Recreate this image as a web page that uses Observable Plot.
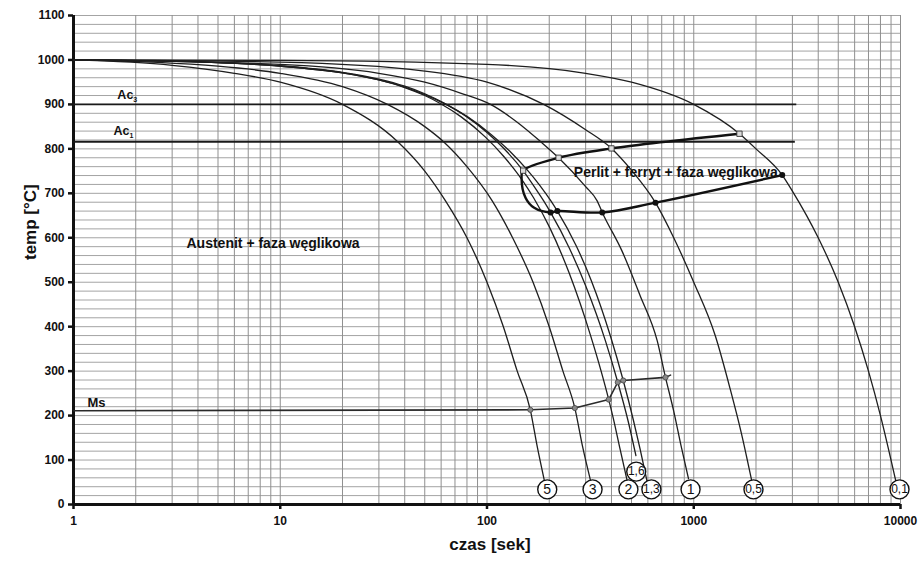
<!DOCTYPE html>
<html><head><meta charset="utf-8">
<script src="https://cdn.jsdelivr.net/npm/d3@7"></script>
<script src="https://cdn.jsdelivr.net/npm/@observablehq/plot@0.6"></script>
<style>
body{margin:0;background:#fff;}
#chart svg{font-family:"Liberation Sans",Arial,Helvetica,sans-serif;}
</style></head><body><div id="chart"></div>
<script>
// cooling curves: [time s, temperature °C]
const curve5  = [[1,1000],[3,988],[6,970],[10,950],[20,900],[37,816],[50,750],[63,683],[80,600],[100,500],[120,400],[140,300],[162,213],[175,130],[189,56]];
const curve3  = [[1,1000],[5,986],[10,970],[20,940],[33,900],[50,850],[62,815],[80,760],[106,683],[133,600],[167,500],[200,400],[233,300],[266,217],[290,130],[316,56]];
const curve2  = [[1,1000],[5,994],[10,986],[20,971],[30,955],[40,938],[50,920],[60,901],[75,872],[98,827],[120,784],[135,755],[150,726],[168,690],[200,625],[250,520],[317,380],[355,303],[388,236],[409,192],[440,125],[476,54]];
const curve16 = [[1,1000],[5,994],[10,987],[20,972],[30,957],[40,941],[50,924],[62,903],[80,872],[100,837],[120,802],[150,750],[175,705],[188,683],[203,657],[250,577],[300,492],[374,368],[429,275],[483,185],[525,110]];
const curve13 = [[1,1000],[5,994],[10,986],[20,971],[30,955],[40,939],[50,922],[64,899],[80,873],[105,832],[130,793],[155,755],[180,718],[203,684],[219,660],[270,582],[320,503],[396,378],[456,279],[511,189],[550,125],[596,50]];
const curve1  = [[1,1000],[10,990],[30,970],[50,950],[75,925],[104,900],[140,860],[182,816],[222,780],[300,715],[341,683],[361,657],[450,570],[550,470],[666,368],[730,286],[800,210],[870,130],[943,58]];
const curve05 = [[1,1000],[10,995],[50,975],[100,950],[188,900],[300,843],[400,801],[500,752],[653,679],[800,600],[1000,500],[1270,380],[1500,260],[1700,160],[1902,56]];
const curve01 = [[1,1000],[10,999],[100,990],[300,970],[500,950],[1000,900],[1664,834],[2000,800],[2679,741],[3000,705],[4000,600],[5000,500],[6000,400],[7000,300],[8000,200],[9000,100],[9500,52]];

// cooling-rate labels (circled) at curve ends
const rateLabels = ["5","3","2","1,6","1,3","1","0,5","0,1"];
const rateLabelT = [195.6, 324, 483, 527, 624, 965, 1945, 9890];
const rateLabelTemp = [34, 34, 34, 74, 34, 34, 34, 34];

// critical temperatures
const acNames = ["Ac3","Ac1"];
const acTemp = [900, 816];
const acEnd = [3150, 3100];

// Ms line
const msTime = [1, 162, 266, 388, 429, 456, 730, 772];
const msTemp = [211, 213, 217, 236, 275, 279, 286, 291];
const msMarkerIdx = [1,2,3,4,5,6];

// pearlite + ferrite region boundary (path order)
const pfTime = [1664, 400, 222, 149.6, 147, 153.6, 168.4, 203, 219, 361, 653, 2679];
const pfTemp = [834, 801, 780, 751, 733, 690, 668, 657, 660, 657, 679, 741];
const pfStartTime = [149.6, 222, 400, 1664];
const pfStartTemp = [751, 780, 801, 834];
const pfEndTime = [203, 219, 361, 653, 2679];
const pfEndTemp = [657, 660, 657, 679, 741];

// axis ticks
const xTicks = [1, 10, 100, 1000, 10000];
const yTicks = [0,100,200,300,400,500,600,700,800,900,1000,1100];

const curveList = [["5",curve5],["3",curve3],["2",curve2],["1.6",curve16],["1.3",curve13],["1",curve1],["0.5",curve05],["0.1",curve01]];
const curveRows = curveList.flatMap(([k, pts]) => pts.map(([t, T]) => ({k, t, T})));
const labelRows = rateLabels.map((s, i) => ({s, t: rateLabelT[i], T: rateLabelTemp[i]}));
const acRows = acNames.map((n, i) => ({n, T: acTemp[i], e: acEnd[i]}));
const msRows = msTime.map((t, i) => ({t, T: msTemp[i]}));
const pfRows = pfTime.map((t, i) => ({t, T: pfTemp[i]}));
const pfStartRows = pfStartTime.map((t, i) => ({t, T: pfStartTemp[i]}));
const pfEndRows = pfEndTime.map((t, i) => ({t, T: pfEndTemp[i]}));

const xGrid = [];
for (const d of [1, 10, 100, 1000]) for (let m = 1; m <= 9; m++) xGrid.push(d * m);
xGrid.push(10000);
const yGrid = d3.range(20, 1101, 20);

const bold = "bold";
const plot = Plot.plot({
  width: 921, height: 567,
  marginLeft: 73, marginRight: 21, marginTop: 15, marginBottom: 63,
  x: {type: "log", domain: [1, 10000]},
  y: {domain: [0, 1100]},
  style: {background: "white", fontFamily: "'Liberation Sans', Arial, sans-serif"},
  marks: [
    Plot.ruleY(yGrid, {stroke: "#a4a4a4", strokeWidth: 1}),
    Plot.ruleX(xGrid, {stroke: "#8f8f8f", strokeWidth: 1}),
    Plot.axisY({ticks: yTicks, tickSize: 5, tickPadding: 4, fontSize: 12, fontWeight: bold, strokeWidth: 2.5, stroke: "#111", fill: "#111", label: null, tickFormat: d => String(d)}),
    Plot.axisX({ticks: xTicks, tickSize: 5, tickPadding: 7, fontSize: 12, fontWeight: bold, strokeWidth: 2.5, stroke: "#111", fill: "#111", label: null, tickFormat: d => String(d)}),
    Plot.ruleX([1], {stroke: "#111", strokeWidth: 3}),
    Plot.ruleY([0], {stroke: "#111", strokeWidth: 3}),
    // critical temperature lines
    Plot.ruleY(acRows, {y: "T", x1: 1, x2: "e", stroke: "#1a1a1a", strokeWidth: 1.8}),
    // cooling curves
    Plot.line(curveRows, {x: "t", y: "T", z: "k", curve: "monotone-x", stroke: "#1e1e1e", strokeWidth: 1.3}),
    // Ms line
    Plot.line(msRows, {x: "t", y: "T", stroke: "#2a2a2a", strokeWidth: 1.6}),
    Plot.dot(msRows.filter((d, i) => msMarkerIdx.includes(i)), {x: "t", y: "T", r: 2.6, fill: "#8a8a8a", stroke: "#444", strokeWidth: 0.8}),
    // pearlite region
    Plot.line(pfRows, {x: "t", y: "T", curve: "catmull-rom", stroke: "#111", strokeWidth: 2.4}),
    Plot.dot(pfStartRows, {x: "t", y: "T", symbol: "square", r: 3, fill: "#ddd", stroke: "#333", strokeWidth: 0.9}),
    Plot.dot(pfEndRows, {x: "t", y: "T", r: 3, fill: "#111"}),
    // circled rate labels
    Plot.dot(labelRows, {x: "t", y: "T", r: 9.5, fill: "white", stroke: "#111", strokeWidth: 1.4}),
    Plot.text(labelRows, {x: "t", y: "T", text: "s", fontSize: d => d.s.length > 1 ? 12 : 14, fill: "#111", lineAnchor: "middle"}),
    // region labels
    Plot.text(["Austenit + faza węglikowa"], {x: 3.52, y: 587, textAnchor: "start", fontSize: 14, fontWeight: bold, fill: "#111"}),
    Plot.text(["Perlit + ferryt + faza węglikowa"], {x: 263, y: 747, textAnchor: "start", fontSize: 14, fontWeight: bold, fill: "#111"}),
    // critical temperature labels
    Plot.text(["Ac"], {x: 1.63, y: 921, textAnchor: "start", fontSize: 12.5, fontWeight: bold, fill: "#111"}),
    Plot.text(["3"], {x: 1.63, y: 921, dx: 16, dy: 5, textAnchor: "start", fontSize: 7, fontWeight: bold, fill: "#111"}),
    Plot.text(["Ac"], {x: 1.56, y: 840, textAnchor: "start", fontSize: 12.5, fontWeight: bold, fill: "#111"}),
    Plot.text(["1"], {x: 1.56, y: 840, dx: 16, dy: 5, textAnchor: "start", fontSize: 7, fontWeight: bold, fill: "#111"}),
    Plot.text(["Ms"], {x: 1.169, y: 229, textAnchor: "start", fontSize: 13, fontWeight: bold, fill: "#111"}),
    // axis titles
    Plot.text(["czas [sek]"], {frameAnchor: "bottom", dy: 45, dx: 3, fontSize: 17, fontWeight: bold, fill: "#111"}),
    Plot.text(["temp [°C]"], {frameAnchor: "left", dx: -43, rotate: -90, fontSize: 17, fontWeight: bold, fill: "#111"})
  ]
});
document.getElementById("chart").appendChild(plot);
</script></body></html>
